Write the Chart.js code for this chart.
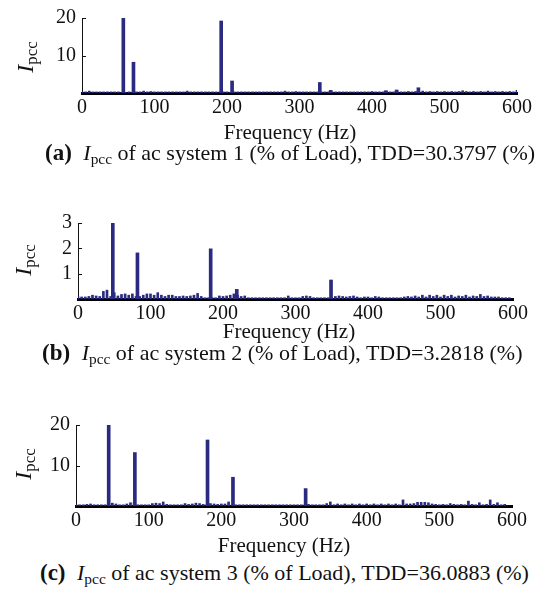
<!DOCTYPE html>
<html>
<head>
<meta charset="utf-8">
<script src="https://cdn.jsdelivr.net/npm/chart.js@4.4.1/dist/chart.umd.min.js"></script>
<style>
  html, body { margin: 0; padding: 0; background: #fff; }
  body { width: 539px; height: 592px; position: relative; overflow: hidden; font-family: "Liberation Serif", "DejaVu Serif", serif; color: #111; }
  .panel { position: absolute; left: 0; width: 539px; }
  .txt { position: absolute; white-space: nowrap; font-family: "Liberation Serif", "DejaVu Serif", serif; }
  .xt { font-size: 21px; transform: translate(-50%, -50%); }
  .cap { font-size: 22px; transform: translateY(-50%); }
  .cap b { font-size: 23px; margin-right: 6px; }
  .yl { font-size: 24px; transform: translate(-50%, -50%) rotate(-90deg); }
  i { font-style: italic; }
  sub { font-size: 0.7em; vertical-align: -0.25em; font-style: normal; }
</style>
</head>
<body>
<div class="panel" style="top:0px;height:121px"><canvas id="ca" width="539" height="121"></canvas></div>
<div class="panel" style="top:200px;height:127px"><canvas id="cb" width="539" height="127"></canvas></div>
<div class="panel" style="top:400px;height:134px"><canvas id="cc" width="539" height="134"></canvas></div>

<div class="txt yl" style="left:27px;top:57px"><i>I</i><sub>pcc</sub></div>
<div class="txt yl" style="left:25px;top:260px"><i>I</i><sub>pcc</sub></div>
<div class="txt yl" style="left:25px;top:464px"><i>I</i><sub>pcc</sub></div>

<div class="txt xt" style="left:290px;top:132px">Frequency (Hz)</div>
<div class="txt xt" style="left:289px;top:331px">Frequency (Hz)</div>
<div class="txt xt" style="left:284px;top:545px">Frequency (Hz)</div>

<div class="txt cap" style="left:45px;top:154px"><b>(a)</b> <i>I</i><sub>pcc</sub> of ac system 1 (% of Load), TDD=30.3797 (%)</div>
<div class="txt cap" style="left:42px;top:354px"><b>(b)</b> <i>I</i><sub>pcc</sub> of ac system 2 (% of Load), TDD=3.2818 (%)</div>
<div class="txt cap" style="left:40px;top:574px"><b>(c)</b> <i>I</i><sub>pcc</sub> of ac system 3 (% of Load), TDD=36.0883 (%)</div>

<script>
// Frequency grid for the low-level spectrum bins (Hz)
const noiseFreqs = [0,5,10,15,20,25,30,35,40,45,50,55,60,65,70,75,80,85,90,95,
  100,105,110,115,120,125,130,135,140,145,150,155,160,165,170,175,180,185,190,195,
  200,205,210,215,220,225,230,235,240,245,250,255,260,265,270,275,280,285,290,295,
  300,305,310,315,320,325,330,335,340,345,350,355,360,365,370,375,380,385,390,395,
  400,405,410,415,420,425,430,435,440,445,450,455,460,465,470,475,480,485,490,495,
  500,505,510,515,520,525,530,535,540,545,550,555,560,565,570,575,580,585,590,595,600];

// (a) ac system 1
const peakFreqA = [57, 71, 192, 207, 328, 343, 419, 434, 464];
const peakValA  = [20, 8.2, 19.2, 3.2, 2.8, 0.7, 0.6, 0.8, 1.4];
const noiseValA = [0.3,0.3,0.5,0.3,0.3,0.3,0.3,0.3,0.3,0.3,0.3,0.2,0.2,0.3,0.2,0.3,
  0.3,0.5,0.3,0.4,0.3,0.3,0.3,0.3,0.3,0.3,0.3,0.3,0.3,0.5,
  0.3,0.3,0.3,0.3,0.3,0.3,0.3,0.3,0.3,
  0.3,0.3,0.2,0.3,0.3,0.3,0.3,0.3,0.3,0.3,0.3,0.3,0.3,0.3,0.3,0.3,0.3,
  0.5,0.3,0.3,0.4,0.3,0.3,0.3,0.3,0.3,0.3,
  0.3,0.3,0.3,0.3,0.3,0.3,0.3,0.3,0.3,0.3,0.3,0.3,0.3,0.3,
  0.4,0.3,0.3,0.3,0.5,0.3,0.3,0.3,0.3,0.3,0.4,0.3,
  0.4,0.3,0.5,0.3,0.4,0.3,0.4,0.3,0.4,0.3,0.4,0.3,0.4,0.6,0.4,0.3,0.4,0.3,0.4,0.3,0.5,0.3,0.4,0.3,0.4,0.3,0.4,0.3,0.7];

// (b) ac system 2
const peakFreqB = [48, 82, 183, 219, 349];
const peakValB  = [3.0, 1.82, 1.98, 0.38, 0.75];
const noiseValB = [0.1,0.08,0.08,0.1,0.15,0.12,0.1,0.3,0.35,0.1,
  0.25,0.12,0.18,0.2,0.15,0.2,0.1,0.1,0.15,0.2,
  0.2,0.15,0.25,0.15,0.1,0.15,0.15,0.1,0.1,0.12,
  0.1,0.12,0.15,0.22,0.1,0.05,0.05,0.05,0.05,0.12,
  0.1,0.12,0.15,0.2,0.15,0.1,0.12,0.05,0.05,0.05,
  0.05,0.05,0.05,0.05,0.05,0.05,0.05,0.05,0.12,0.05,
  0.05,0.05,0.1,0.12,0.1,0.05,0.05,0.05,0.05,0.05,
  0.05,0.1,0.12,0.1,0.08,0.1,0.12,0.08,0.05,0.08,
  0.08,0.05,0.1,0.08,0.05,0.05,0.05,0.05,0.05,0.05,
  0.08,0.1,0.08,0.12,0.08,0.15,0.08,0.15,0.1,0.15,
  0.08,0.15,0.1,0.15,0.08,0.12,0.1,0.15,0.08,0.12,
  0.1,0.18,0.1,0.12,0.08,0.08,0.08,0.05,0.05,0.05,0];

// (c) ac system 3
const peakFreqC = [45, 81, 181, 216, 316];
const peakValC  = [20, 13.2, 16.3, 7.1, 4.3];
const noiseValC = [0.3,0.3,0.3,0.4,0.5,0.3,0.3,0.3,0.3,0.3,
  0.7,0.5,0.3,0.3,0.5,0.8,0.9,0.3,0.3,0.3,
  0.3,0.6,0.7,0.6,1.0,0.4,0.3,0.3,0.3,0.3,
  0.6,0.4,0.5,0.7,0.6,0.4,0.3,0.6,0.5,0.4,
  0.5,0.5,1.0,0.3,0.3,0.3,0.3,0.3,0.3,0.3,
  0.3,0.3,0.3,0.3,0.3,0.3,0.3,0.3,0.3,0.3,
  0.3,0.3,0.3,0.3,0.4,0.3,0.3,0.3,0.3,0.6,
  1.0,0.3,0.5,0.3,0.5,0.3,0.5,0.3,0.5,0.3,
  0.5,0.3,0.5,0.3,0.5,0.3,0.5,0.3,0.5,0.3,
  1.5,0.5,0.5,0.6,0.9,0.9,0.9,0.8,0.5,0.4,
  0.3,0.4,0.3,0.6,0.4,0.3,0.4,0.3,1.2,0.4,
  0.3,0.8,0.3,0.4,1.5,0.4,0.8,0.3,0.4,0,0];

const xTickStep = 100;
const barColor = 'rgb(42,42,128)';
const fontFam = '"Liberation Serif", "DejaVu Serif", serif';

const inwardTicks = {
  id: 'inwardTicks',
  afterDraw(chart) {
    const y = chart.scales.y, ca = chart.chartArea, ctx = chart.ctx;
    ctx.save();
    ctx.strokeStyle = '#111';
    ctx.lineWidth = 1;
    y.ticks.forEach(t => {
      if (t.value === 0) return;
      const py = Math.round(y.getPixelForValue(t.value)) + 0.5;
      ctx.beginPath();
      ctx.moveTo(ca.left, py);
      ctx.lineTo(ca.left + 4, py);
      ctx.stroke();
    });
    ctx.restore();
  }
};

function makeChart(id, pFreq, pVal, nVal, yMax, yStep, axisLeft, padRight, padTop) {
  const pts = (fs, vs) => fs.map((f, i) => ({x: f, y: vs[i]}));
  new Chart(document.getElementById(id), {
    type: 'bar',
    data: {
      datasets: [
        { data: pts(noiseFreqs, nVal), backgroundColor: barColor, barThickness: 2, grouped: false },
        { data: pts(pFreq, pVal), backgroundColor: barColor, barThickness: 3, grouped: false }
      ]
    },
    options: {
      responsive: false,
      animation: false,
      events: [],
      layout: { padding: { left: 0, right: padRight, top: padTop, bottom: 0 } },
      plugins: { legend: { display: false }, tooltip: { enabled: false } },
      scales: {
        x: {
          type: 'linear', min: 0, max: 600, offset: false,
          grid: { display: false, offset: false, drawTicks: false },
          border: { display: true, color: '#000', width: 3 },
          ticks: { stepSize: xTickStep, maxRotation: 0, autoSkip: false, padding: 3, color: '#111',
                   font: { family: fontFam, size: 20 } },
          afterFit(s) { s.height = 28; }
        },
        y: {
          min: 0, max: yMax,
          grid: { display: false, drawTicks: false },
          border: { display: true, color: '#111', width: 1 },
          ticks: { stepSize: yStep, autoSkip: false, padding: 6, color: '#111', font: { family: fontFam, size: 20 },
                   callback: v => (v === 0 ? '' : v) },
          afterFit(s) { s.width = axisLeft; }
        }
      }
    },
    plugins: [inwardTicks]
  });
}

makeChart('ca', peakFreqA, peakValA, noiseValA, 20, 10, 82, 22, 18);
makeChart('cb', peakFreqB, peakValB, noiseValB, 3, 1, 78, 26, 23);
makeChart('cc', peakFreqC, peakValC, noiseValC, 20, 10, 76, 27, 25);
</script>
</body>
</html>
